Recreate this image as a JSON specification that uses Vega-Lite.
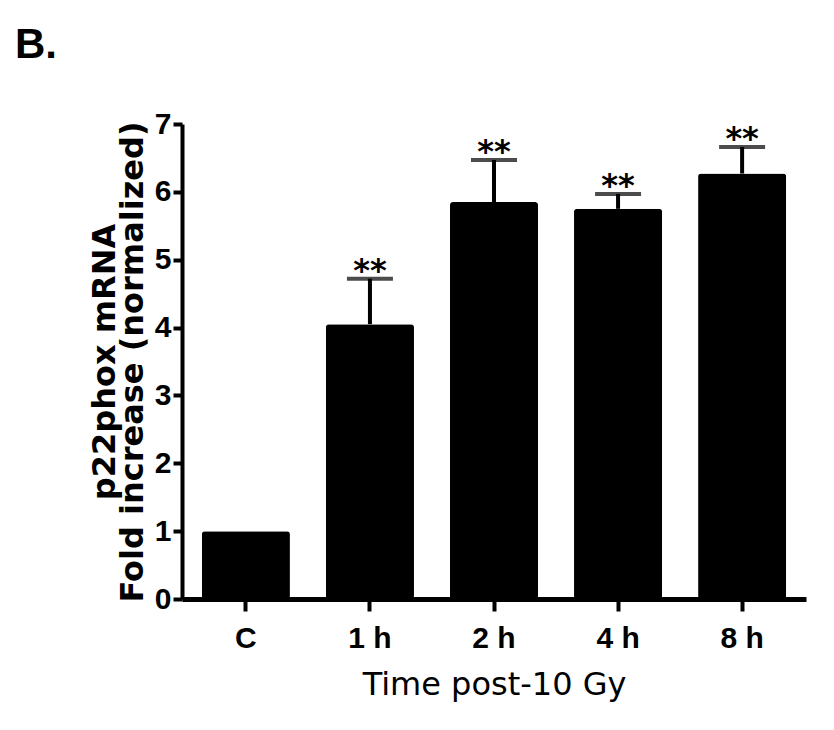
{
  "$schema": "https://vega.github.io/schema/vega-lite/v6.json",
  "width": 624,
  "height": 475,
  "autosize": {"type": "none"},
  "padding": {"left": 182, "top": 124, "right": 28, "bottom": 131},
  "background": "white",
  "title": {
    "text": "B.",
    "anchor": "start",
    "frame": "group",
    "font": "Liberation Sans",
    "fontSize": 42,
    "fontWeight": "bold",
    "color": "black",
    "baseline": "alphabetic",
    "offset": 0,
    "dx": -167,
    "dy": -9
  },
  "data": {
    "values": [
      {"time": "C", "mean": 1.0, "upper": null, "sig": ""},
      {"time": "1 h", "mean": 4.05, "upper": 4.72, "sig": "**"},
      {"time": "2 h", "mean": 5.85, "upper": 6.47, "sig": "**"},
      {"time": "4 h", "mean": 5.75, "upper": 5.97, "sig": "**"},
      {"time": "8 h", "mean": 6.27, "upper": 6.66, "sig": "**"}
    ]
  },
  "encoding": {
    "x": {
      "field": "time",
      "type": "nominal",
      "sort": null,
      "title": "Time post-10 Gy",
      "scale": {"paddingInner": 0.29, "paddingOuter": 0.16},
      "axis": {
        "domainWidth": 5,
        "tickWidth": 4,
        "tickSize": 12,
        "labelAngle": 0,
        "labelPadding": 12,
        "titleFont": "DejaVu Sans",
        "titleFontWeight": "normal",
        "titleFontSize": 32,
        "titleBaseline": "alphabetic",
        "titleY": 95
      }
    }
  },
  "layer": [
    {
      "mark": {"type": "bar", "color": "black", "cornerRadius": 3},
      "encoding": {
        "y": {
          "field": "mean",
          "type": "quantitative",
          "scale": {"domain": [0, 7], "nice": false, "zero": true},
          "title": ["p22phox mRNA", "Fold increase (normalized)"],
          "axis": {
            "values": [0, 1, 2, 3, 4, 5, 6, 7],
            "format": "d",
            "domainWidth": 4,
            "tickWidth": 4,
            "tickSize": 9,
            "labelPadding": 2,
            "titleFont": "DejaVu Sans",
            "titleFontWeight": "bold",
            "titleFontSize": 32,
            "titleAngle": -90,
            "titleX": -68,
            "titleY": 237.5,
            "titleAlign": "center",
            "titleBaseline": "alphabetic",
            "titleLineHeight": 28
          }
        }
      }
    },
    {
      "mark": {"type": "rule", "color": "black", "strokeWidth": 4},
      "encoding": {
        "y": {"field": "mean", "type": "quantitative"},
        "y2": {"field": "upper"}
      }
    },
    {
      "mark": {"type": "tick", "color": "black", "thickness": 4, "size": 46},
      "encoding": {
        "y": {"field": "upper", "type": "quantitative"}
      }
    },
    {
      "mark": {
        "type": "text",
        "color": "black",
        "font": "DejaVu Sans",
        "fontWeight": "bold",
        "fontSize": 32,
        "baseline": "alphabetic",
        "align": "center",
        "dy": 2
      },
      "encoding": {
        "y": {"field": "upper", "type": "quantitative"},
        "text": {"field": "sig"}
      }
    }
  ],
  "config": {
    "view": {"stroke": null},
    "axis": {
      "grid": false,
      "domainColor": "black",
      "tickColor": "black",
      "labelColor": "black",
      "titleColor": "black",
      "labelFont": "Liberation Sans",
      "labelFontWeight": "bold",
      "labelFontSize": 30
    }
  }
}
